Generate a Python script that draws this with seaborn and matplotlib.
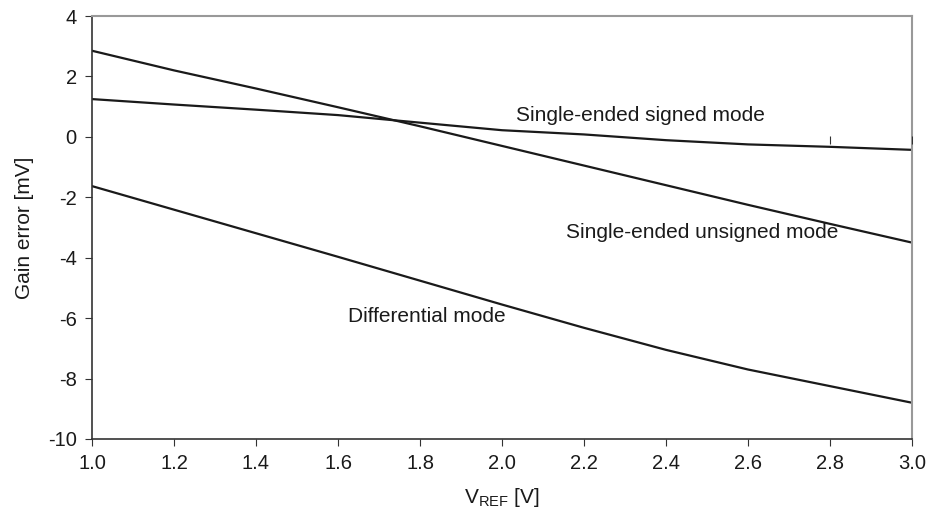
import matplotlib
matplotlib.use("Agg")
import matplotlib.pyplot as plt
import seaborn as sns
import pandas as pd
from matplotlib import font_manager

# ---- data ----
vref = [1.0, 1.2, 1.4, 1.6, 1.8, 2.0, 2.2, 2.4, 2.6, 2.8, 3.0]
signed = [1.25, 1.07, 0.90, 0.72, 0.47, 0.22, 0.08, -0.11, -0.25, -0.33, -0.43]
unsigned = [2.85, 2.20, 1.60, 0.98, 0.35, -0.30, -0.95, -1.60, -2.25, -2.88, -3.50]
differential = [-1.63, -2.41, -3.19, -3.97, -4.76, -5.55, -6.32, -7.05, -7.70, -8.25, -8.80]
tick_mark_x = [2.8, 3.0]
tick_mark_y = [-0.12, -0.12]
x_ticks = [1.0, 1.2, 1.4, 1.6, 1.8, 2.0, 2.2, 2.4, 2.6, 2.8, 3.0]
y_ticks = [-10, -8, -6, -4, -2, 0, 2, 4]
labels = ["Single-ended signed mode", "Single-ended unsigned mode", "Differential mode"]
label_pos = [(2.337, 0.70), (2.488, -3.15), (1.817, -5.93)]

sns.set_theme(style="white")
names = {f.name for f in font_manager.fontManager.ttflist}
main_font = "Liberation Sans" if "Liberation Sans" in names else "DejaVu Sans"
tick_font = "Liberation Sans Narrow" if "Liberation Sans Narrow" in names else main_font
plt.rcParams['font.family'] = [main_font, 'DejaVu Sans']

df = pd.DataFrame({
    "x": vref * 3,
    "y": signed + unsigned + differential,
    "series": ["signed"] * len(vref) + ["unsigned"] * len(vref) + ["diff"] * len(vref),
})

fig = plt.figure(figsize=(9.3, 5.2), dpi=100)
ax = fig.add_axes([92/930, 1 - 439/520, 820/930, 423/520])

sns.lineplot(data=df, x="x", y="y", units="series", estimator=None,
             color="#1a1a1a", linewidth=1.6, ax=ax, legend=False)
ax.scatter(tick_mark_x, tick_mark_y, marker="|", s=40, color="#333333", linewidths=0.8, zorder=3)

ax.set_xlim(1.0, 3.0)
ax.set_ylim(-10, 4)
ax.set_xticks(x_ticks)
ax.set_xticklabels([f"{v:.1f}" for v in x_ticks], family=tick_font, fontsize=14.5, color="#1a1a1a")
ax.set_yticks(y_ticks)
ax.set_yticklabels([str(v) for v in y_ticks], family=tick_font, fontsize=14.5, color="#1a1a1a")
ax.tick_params(axis="both", direction="out", length=5, width=0.8, color="#333333", pad=6,
               bottom=True, left=True)

for s in ["left", "bottom"]:
    ax.spines[s].set_color("#333333")
    ax.spines[s].set_linewidth(1.2)
for s in ["top", "right"]:
    ax.spines[s].set_color("#999999")
    ax.spines[s].set_linewidth(1.5)

ax.set_xlabel(r"V$_{\mathregular{REF}}$ [V]", fontsize=15, color="#1a1a1a", labelpad=9)
ax.set_ylabel("Gain error [mV]", fontsize=15, color="#1a1a1a", labelpad=10)

for txt, (lx, ly) in zip(labels, label_pos):
    ax.text(lx, ly, txt, fontsize=15, color="#1a1a1a", ha="center", va="center")

fig.savefig("out.png", dpi=100)
